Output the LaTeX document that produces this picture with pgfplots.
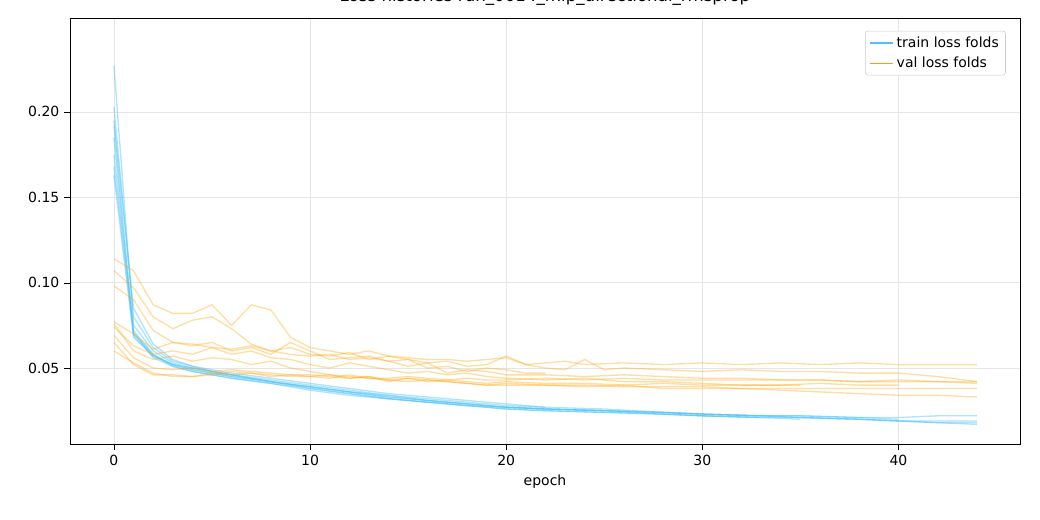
\documentclass[border=0pt]{standalone}
\usepackage{pgfplots}
\pgfplotsset{compat=1.18}
\usepackage{fontspec}
\setmainfont{DejaVu Sans}
\definecolor{tr}{HTML}{4FC3F7}
\definecolor{va}{HTML}{FFA000}
\begin{document}
\fontsize{10.5pt}{12.5pt}\selectfont
\begin{tikzpicture}
\path[use as bounding box] (-52.5pt,-57pt) rectangle (727.5pt,333pt);
\begin{axis}[scale only axis, width=712.5pt, height=319.5pt,
 xmin=-2.24, xmax=46.2, ymin=0.0055, ymax=0.255,
 xtick={0,10,20,30,40}, ytick={0.05,0.10,0.15,0.20},
 xtick pos=left, ytick pos=left,
 yticklabel style={/pgf/number format/fixed,/pgf/number format/precision=2,/pgf/number format/fixed zerofill},
 /pgf/number format/assume math mode=true,
 grid=major, major grid style={gray!20}, tick align=outside, tick style={black},
 xlabel={epoch}, title={\fontsize{12.5pt}{14pt}\selectfont Loss histories run\_0014\_mlp\_directional\_rmsprop},
 legend style={at={(0.985,0.97)},anchor=north east,draw=gray!40,rounded corners=2pt,font=\fontsize{10.5pt}{12.5pt}\selectfont,row sep=2pt},
 legend cell align=left,
 every axis plot/.append style={line width=1pt},
]
\addlegendimage{tr,line width=1.4pt}\addlegendentry{train loss folds}
\addlegendimage{va,line width=1.4pt}\addlegendentry{val loss folds}
% train
\addplot[tr,opacity=0.45] coordinates {(0,0.227)(1,0.075)(2,0.060)(3,0.053)(4,0.050)(5,0.048)(6,0.046)(8,0.043)(10,0.040)(12,0.037)(14,0.034)(16,0.032)(18,0.030)(20,0.028)(22,0.027)(25,0.026)(28,0.024)(30,0.023)(33,0.022)(35,0.021)(38,0.020)(40,0.019)(42,0.018)(44,0.017)};
\addplot[tr,opacity=0.45] coordinates {(0,0.203)(1,0.080)(2,0.062)(3,0.054)(4,0.051)(5,0.049)(6,0.047)(8,0.044)(10,0.041)(12,0.038)(14,0.035)(16,0.033)(18,0.031)(20,0.029)(22,0.027)};
\addplot[tr,opacity=0.45] coordinates {(0,0.192)(1,0.070)(2,0.058)(3,0.052)(4,0.050)(5,0.048)(6,0.046)(8,0.042)(10,0.039)(12,0.036)(14,0.033)(16,0.031)(18,0.029)(20,0.027)(22,0.026)(25,0.025)(28,0.024)(30,0.023)(33,0.022)(35,0.022)(38,0.021)(40,0.021)(42,0.022)(44,0.022)};
\addplot[tr,opacity=0.45] coordinates {(0,0.185)(1,0.069)(2,0.057)(3,0.052)(4,0.049)(5,0.047)(6,0.045)(8,0.042)(10,0.039)(12,0.036)(14,0.034)(16,0.031)(18,0.029)(20,0.027)(22,0.026)(25,0.025)(28,0.023)(30,0.022)(33,0.021)(35,0.021)(38,0.020)(40,0.019)(42,0.018)(44,0.018)};
\addplot[tr,opacity=0.45] coordinates {(0,0.175)(1,0.072)(2,0.058)(3,0.051)(4,0.048)(5,0.046)(6,0.044)(8,0.041)(10,0.038)(12,0.035)(14,0.032)(16,0.030)(18,0.028)(20,0.026)(22,0.025)(25,0.024)(28,0.023)(30,0.022)(33,0.021)(35,0.020)};
\addplot[tr,opacity=0.45] coordinates {(0,0.168)(1,0.071)(2,0.056)(3,0.051)(4,0.048)(5,0.046)(6,0.044)(8,0.041)(10,0.037)(12,0.034)(14,0.032)(16,0.030)(18,0.028)(20,0.027)(22,0.026)(25,0.025)(28,0.024)(30,0.023)(33,0.022)(35,0.022)(38,0.021)(40,0.020)};
\addplot[tr,opacity=0.45] coordinates {(0,0.163)(1,0.068)(2,0.057)(3,0.052)(4,0.049)(5,0.047)(6,0.045)(8,0.042)(10,0.039)(12,0.036)(14,0.033)(16,0.031)(18,0.029)(20,0.027)(22,0.026)(25,0.025)(28,0.024)(30,0.023)(33,0.022)(35,0.021)(38,0.020)(40,0.019)(42,0.019)(44,0.019)};
\addplot[tr,opacity=0.45] coordinates {(0,0.195)(1,0.085)(2,0.064)(3,0.055)(4,0.051)(5,0.048)(6,0.046)(8,0.042)(10,0.038)(12,0.035)(14,0.032)(16,0.030)(18,0.028)(20,0.026)(22,0.025)(25,0.024)(28,0.023)(30,0.022)(33,0.021)};
% val
\addplot[va,opacity=0.35] coordinates {(0,0.114)(1,0.107)(2,0.087)(3,0.082)(4,0.082)(5,0.087)(6,0.075)(7,0.087)(8,0.084)(9,0.068)(10,0.062)(11,0.060)(12,0.058)(13,0.060)(14,0.057)(15,0.056)(16,0.055)(17,0.055)(18,0.054)(19,0.055)(20,0.056)(21,0.052)(22,0.053)(23,0.054)(24,0.052)(26,0.053)(28,0.052)(30,0.053)(32,0.052)(34,0.053)(36,0.052)(38,0.053)(40,0.052)(42,0.052)(44,0.052)};
\addplot[va,opacity=0.35] coordinates {(0,0.107)(1,0.097)(2,0.080)(3,0.073)(4,0.078)(5,0.080)(6,0.073)(7,0.064)(8,0.060)(9,0.062)(10,0.058)(11,0.057)(12,0.059)(13,0.055)(14,0.057)(15,0.055)(16,0.053)(17,0.054)(18,0.051)(19,0.052)(20,0.057)(21,0.052)(22,0.050)(23,0.049)(24,0.055)(25,0.049)(26,0.050)(28,0.049)(30,0.048)(32,0.049)(34,0.048)(36,0.048)(38,0.047)(40,0.047)(42,0.045)(44,0.042)};
\addplot[va,opacity=0.35] coordinates {(0,0.098)(1,0.090)(2,0.072)(3,0.065)(4,0.063)(5,0.065)(6,0.060)(7,0.062)(8,0.058)(9,0.065)(10,0.060)(11,0.055)(12,0.056)(13,0.057)(14,0.054)(15,0.055)(16,0.050)(17,0.051)(18,0.048)(19,0.050)(20,0.049)(21,0.047)(22,0.047)};
\addplot[va,opacity=0.35] coordinates {(0,0.077)(1,0.070)(2,0.061)(3,0.065)(4,0.064)(5,0.062)(6,0.061)(7,0.063)(8,0.060)(9,0.058)(10,0.057)(11,0.058)(12,0.055)(13,0.056)(14,0.054)(15,0.051)(16,0.053)(17,0.047)(18,0.049)(19,0.048)(20,0.046)(22,0.046)(24,0.045)(26,0.046)(28,0.045)(30,0.044)(32,0.044)(34,0.043)(36,0.043)(38,0.042)(40,0.042)(42,0.042)(44,0.042)};
\addplot[va,opacity=0.35] coordinates {(0,0.074)(1,0.063)(2,0.058)(3,0.060)(4,0.058)(5,0.062)(6,0.058)(7,0.060)(8,0.056)(9,0.055)(10,0.052)(11,0.050)(12,0.053)(13,0.051)(14,0.049)(15,0.047)(16,0.048)(17,0.046)(18,0.047)(19,0.045)(20,0.044)(22,0.043)(24,0.044)(26,0.042)(28,0.042)(30,0.041)(32,0.040)(34,0.040)(36,0.041)(38,0.040)(40,0.040)};
\addplot[va,opacity=0.35] coordinates {(0,0.076)(1,0.060)(2,0.055)(3,0.057)(4,0.054)(5,0.056)(6,0.055)(7,0.052)(8,0.054)(9,0.050)(10,0.048)(11,0.046)(12,0.044)(13,0.045)(14,0.042)(15,0.044)(16,0.043)(17,0.042)(18,0.041)(19,0.040)(20,0.040)(22,0.040)(24,0.039)(26,0.040)(28,0.038)(30,0.038)(32,0.038)(34,0.037)(36,0.036)(38,0.035)(40,0.034)(42,0.034)(44,0.033)};
\addplot[va,opacity=0.35] coordinates {(0,0.069)(1,0.056)(2,0.050)(3,0.049)(4,0.050)(5,0.048)(6,0.049)(7,0.048)(8,0.047)(9,0.046)(10,0.046)(11,0.045)(12,0.044)(13,0.045)(14,0.043)(15,0.042)(16,0.043)(17,0.042)(18,0.041)(19,0.040)(20,0.041)(22,0.040)(24,0.040)(26,0.039)(28,0.039)(30,0.039)(32,0.038)(34,0.038)(36,0.038)(38,0.038)(40,0.038)(42,0.038)(44,0.038)};
\addplot[va,opacity=0.35] coordinates {(0,0.065)(1,0.052)(2,0.046)(3,0.046)(4,0.045)(5,0.047)(6,0.046)(7,0.047)(8,0.045)(9,0.046)(10,0.045)(11,0.044)(12,0.046)(13,0.044)(14,0.043)(15,0.044)(16,0.042)(17,0.043)(18,0.042)(19,0.041)(20,0.042)(22,0.041)(24,0.041)(26,0.040)(28,0.041)(30,0.040)(32,0.040)(34,0.040)(35,0.040)};
\addplot[va,opacity=0.35] coordinates {(0,0.060)(1,0.053)(2,0.047)(3,0.045)(4,0.045)(5,0.046)(6,0.048)(7,0.047)(8,0.046)(9,0.045)(10,0.045)(11,0.046)(12,0.045)(13,0.044)(14,0.044)(15,0.045)(16,0.044)(17,0.043)(18,0.044)(19,0.043)(20,0.043)(22,0.044)(24,0.043)(26,0.044)(28,0.043)(30,0.043)(32,0.043)(34,0.043)(36,0.043)(38,0.042)(40,0.043)(42,0.042)(44,0.041)};
\end{axis}
\end{tikzpicture}
\end{document}
